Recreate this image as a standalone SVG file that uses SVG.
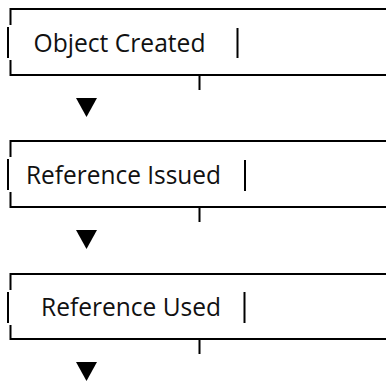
<svg xmlns="http://www.w3.org/2000/svg" width="386" height="381" viewBox="0 0 386 381">
<style>
.ln{stroke:#000;stroke-width:2;fill:none}
.lbl{font-family:"Open Sans","Noto Sans","DejaVu Sans",sans-serif;font-size:25px;fill:#111}
.tri{fill:#000}
</style>
<rect width="386" height="381" fill="#fff"/>
<g id="node-object-created">
<path class="ln" d="M386 9H10.5V25M8 27V58M10.5 60V75H386"/>
<path class="ln" d="M237.5 28V58"/>
<text class="lbl" x="33.5" y="51.5" textLength="172" lengthAdjust="spacingAndGlyphs">Object Created</text>
</g>
<g id="node-reference-issued">
<path class="ln" d="M386 141H10.5V157M8 159V190M10.5 192V207H386"/>
<path class="ln" d="M245 160V191"/>
<text class="lbl" x="26" y="184" textLength="195" lengthAdjust="spacingAndGlyphs">Reference Issued</text>
</g>
<g id="node-reference-used">
<path class="ln" d="M386 274H10.5V290M8 292V323M10.5 325V339H386"/>
<path class="ln" d="M244.5 292V323"/>
<text class="lbl" x="41" y="316" textLength="180" lengthAdjust="spacingAndGlyphs">Reference Used</text>
</g>
<g id="connectors">
<path class="ln" d="M199.5 75V90M199.5 207V222M199.5 339V354"/>
<path class="tri" d="M76 98H97L86.5 117Z"/>
<path class="tri" d="M76 230H97L86.5 249Z"/>
<path class="tri" d="M76 362H97L86.5 381Z"/>
</g>
</svg>
